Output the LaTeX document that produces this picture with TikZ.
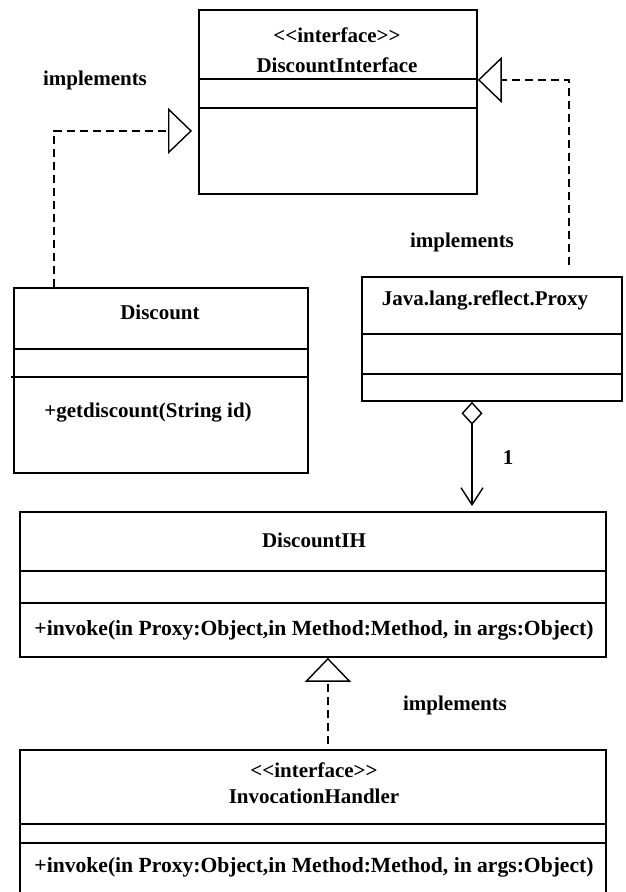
\documentclass[tikz,border=0pt]{standalone}
\usepackage{fontspec}
\setmainfont{Liberation Serif}
\usetikzlibrary{arrows.meta}
\begin{document}
\begin{tikzpicture}[x=1pt,y=-1pt,
  umlbox/.style={draw, line width=1.8pt, anchor=north west, inner sep=0pt},
  divider/.style={line width=1.6pt},
  lbl/.style={font=\fontsize{21}{24}\selectfont\bfseries, inner sep=0pt},
  oplbl/.style={font=\fontsize{21.6}{24}\selectfont\bfseries, inner sep=0pt},
  impl/.style={line width=1.4pt, dash pattern=on 8pt off 5pt,
    -{Triangle[open, length=24pt, width=46pt]}},
  aggr/.style={line width=1.4pt,
    {Diamond[open, length=23pt, width=21pt]}-{Straight Barb[length=17pt, width=22pt]}}]
\useasboundingbox (0,0) rectangle (626,892);
\clip (0,0) rectangle (626,892);

% class boxes
\node[umlbox, minimum width=278pt, minimum height=184pt] (di) at (198,9) {};
\node[umlbox, minimum width=294pt, minimum height=185pt] (disc) at (13,287) {};
\node[umlbox, minimum width=260pt, minimum height=124pt] (proxy) at (361,276) {};
\node[umlbox, minimum width=586pt, minimum height=145pt] (dih) at (19,511) {};
\node[umlbox, minimum width=586pt, minimum height=180pt] (ih) at (19,749) {};

% compartment lines
\draw[divider] ([yshift=-70pt]di.north west) -- ([yshift=-70pt]di.north east);
\draw[divider] ([yshift=-99pt]di.north west) -- ([yshift=-99pt]di.north east);
\draw[divider] ([yshift=-62pt]disc.north west) -- ([yshift=-62pt]disc.north east);
\draw[divider] ([xshift=-2pt,yshift=-90pt]disc.north west) -- ([yshift=-90pt]disc.north east);
\draw[divider] ([yshift=-58pt]proxy.north west) -- ([yshift=-58pt]proxy.north east);
\draw[divider] ([yshift=-98pt]proxy.north west) -- ([yshift=-98pt]proxy.north east);
\draw[divider] ([yshift=-60pt]dih.north west) -- ([yshift=-60pt]dih.north east);
\draw[divider] ([yshift=-92pt]dih.north west) -- ([yshift=-92pt]dih.north east);
\draw[divider] ([yshift=-75pt]ih.north west) -- ([yshift=-75pt]ih.north east);
\draw[divider] ([yshift=-94pt]ih.north west) -- ([yshift=-94pt]ih.north east);

% box texts
\node[lbl] (diStereo) at (337,35) {<{}<interface>{}>};
\node[lbl] (diName) at (337,65) {DiscountInterface};
\node[lbl] (discName) at (160,312) {Discount};
\node[lbl] (discOp) at (148,413) {+getdiscount(String id)};
\node[lbl] (proxyName) at (485,300) {Java.lang.reflect.Proxy};
\node[lbl] (dihName) at (314,540) {DiscountIH};
\node[oplbl] (dihOp) at (314,630) {+invoke(in Proxy:Object,in Method:Method, in args:Object)};
\node[lbl] (ihStereo) at (314,770) {<{}<interface>{}>};
\node[lbl] (ihName) at (314,796) {InvocationHandler};
\node[oplbl] (ihOp) at (314,867) {+invoke(in Proxy:Object,in Method:Method, in args:Object)};

% connector labels
\node[lbl] (implA) at (95,80) {implements};
\node[lbl] (implB) at (462,242) {implements};
\node[lbl] (implC) at (455,705) {implements};
\node[lbl] (mult) at (508,458) {1};

% realisations
\draw[impl, shorten >=6pt] ([xshift=41pt]disc.north west) |- ([yshift=-29pt]di.west);
\draw[impl, shorten <=11pt] ([xshift=208pt]proxy.north west) |- ([yshift=22pt]di.east);
\draw[impl, shorten <=5pt] ([xshift=15pt]ih.north) -- ([xshift=15pt]ih.north |- dih.south);

% aggregation
\draw[aggr, shorten >=5pt] ([xshift=111pt]proxy.south west) -- ([xshift=111pt]proxy.south west |- dih.north);
\end{tikzpicture}
\end{document}
